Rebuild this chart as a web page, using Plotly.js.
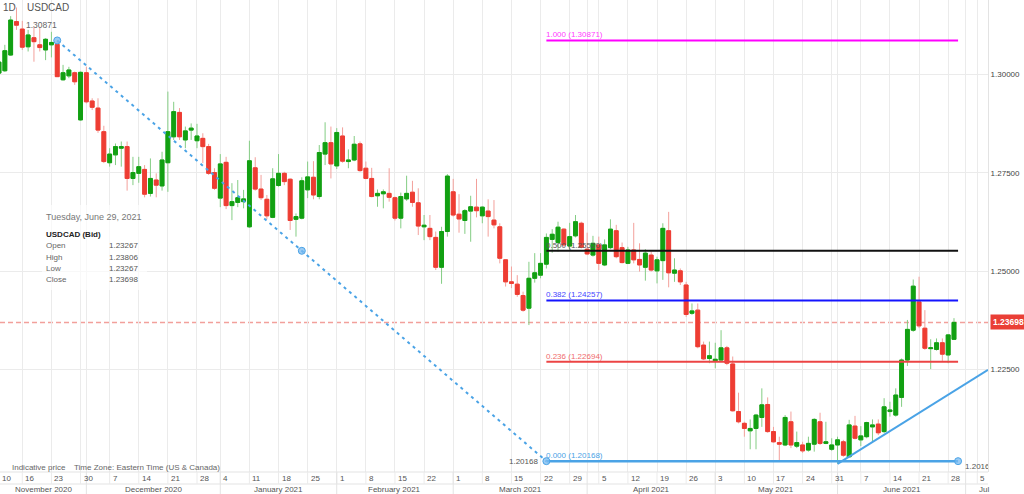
<!DOCTYPE html>
<html><head><meta charset="utf-8">
<script src="https://cdn.plot.ly/plotly-3.0.1.min.js"></script>
<style>html,body{margin:0;padding:0;background:#fff;}#chart{width:1024px;height:494px;}</style>
</head><body><div id="chart"></div>
<script>
// ---------- data ----------
const symbol = 'USDCAD';
const timeframe = '1D';
const startDate = '2020-11-10';
const holidays = ['2021-01-01'];
const open = [1.3004,1.3010,1.3050,1.3135,1.3116,1.3071,1.3094,1.3076,1.3063,1.3076,
1.3077,1.2987,1.2997,1.3005,1.2885,1.3005,1.2933,1.2915,1.2855,1.2776,
1.2796,1.2813,1.2817,1.2736,1.2749,1.2759,1.2698,1.2732,1.2717,1.2776,
1.2842,1.2904,1.2834,1.2859,1.2832,1.2838,1.2817,1.2751,1.2686,1.2777,
1.2667,1.2675,1.2677,1.2613,1.2763,1.2709,1.2683,1.2637,1.2718,1.2749,
1.2734,1.2632,1.2635,1.2707,1.2739,1.2690,1.2798,1.2827,1.2768,1.2844,
1.2779,1.2783,1.2824,1.2762,1.2736,1.2692,1.2697,1.2698,1.2687,1.2635,
1.2684,1.2701,1.2674,1.2613,1.2609,1.2586,1.2510,1.2601,1.2702,1.2645,
1.2629,1.2653,1.2663,1.2641,1.2653,1.2630,1.2613,1.2529,1.2473,1.2467,
1.2438,1.2406,1.2482,1.2490,1.2518,1.2581,1.2573,1.2607,1.2564,1.2590,
1.2622,1.2556,1.2541,1.2567,1.2516,1.2560,1.2603,1.2560,1.2520,1.2554,
1.2530,1.2510,1.2541,1.2501,1.2527,1.2603,1.2495,1.2501,1.2465,1.2393,
1.2401,1.2312,1.2278,1.2272,1.2274,1.2305,1.2264,1.2143,1.2113,1.2094,
1.2100,1.2128,1.2161,1.2092,1.2064,1.2058,1.2117,1.2055,1.2058,1.2045,
1.2060,1.2117,1.2062,1.2047,1.2058,1.2066,1.2028,1.2106,1.2071,1.2079,
1.2104,1.2111,1.2092,1.2143,1.2134,1.2179,1.2274,1.2350,1.2422,1.2355,
1.2303,1.2301,1.2318,1.2287,1.23267];
const high = [1.3042,1.3076,1.3149,1.3171,1.3137,1.3114,1.3122,1.3121,1.3093,1.3109,
1.30871,1.3025,1.3020,1.3008,1.3008,1.3020,1.2940,1.2940,1.2870,1.2813,
1.2825,1.2830,1.2830,1.2791,1.2791,1.2770,1.2787,1.2749,1.2804,1.2957,
1.2931,1.2915,1.2868,1.2876,1.2875,1.2851,1.2824,1.2762,1.2798,1.2791,
1.2724,1.2732,1.2707,1.2832,1.2790,1.2745,1.2694,1.2762,1.2798,1.2753,
1.2736,1.2647,1.2739,1.2779,1.2780,1.2821,1.2879,1.2868,1.2864,1.2866,
1.2810,1.2844,1.2830,1.2779,1.2763,1.2708,1.2708,1.2762,1.2690,1.2700,
1.2743,1.2730,1.2711,1.2643,1.2643,1.2601,1.2613,1.2747,1.2735,1.2696,
1.2658,1.2692,1.2735,1.2665,1.2683,1.2681,1.2622,1.2530,1.2512,1.2490,
1.2448,1.2524,1.2546,1.2546,1.2596,1.2607,1.2626,1.2609,1.2623,1.2643,
1.2626,1.2598,1.2590,1.2588,1.2581,1.2632,1.2618,1.2573,1.2562,1.2623,
1.2571,1.2556,1.2550,1.2537,1.2622,1.2651,1.2533,1.2507,1.2473,1.2418,
1.2418,1.2321,1.2321,1.2318,1.2350,1.2310,1.2283,1.2191,1.2117,1.2123,
1.2137,1.2202,1.2179,1.2104,1.2079,1.2134,1.2143,1.2092,1.2066,1.2079,
1.2126,1.2140,1.2117,1.2075,1.2079,1.2071,1.2122,1.2132,1.2106,1.2117,
1.2123,1.2123,1.2177,1.2168,1.2202,1.2278,1.2376,1.2479,1.2486,1.2401,
1.2327,1.2329,1.2329,1.2340,1.23806];
const low = [1.2999,1.3007,1.3048,1.3114,1.3063,1.3059,1.3033,1.3059,1.3037,1.3044,
1.2994,1.2985,1.2991,1.2974,1.2883,1.2927,1.2910,1.2852,1.2775,1.2766,
1.2770,1.2766,1.2705,1.2719,1.2725,1.2688,1.2690,1.2688,1.2705,1.2702,
1.2834,1.2834,1.2813,1.2834,1.2813,1.2775,1.2745,1.2707,1.2663,1.2658,
1.2630,1.2663,1.2660,1.2610,1.2705,1.2681,1.2632,1.2635,1.2715,1.2719,
1.2605,1.2588,1.2632,1.2686,1.2683,1.2683,1.2770,1.2736,1.2760,1.2776,
1.2762,1.2780,1.2753,1.2734,1.2688,1.2664,1.2660,1.2677,1.2629,1.2609,
1.2679,1.2664,1.2592,1.2579,1.2579,1.2503,1.2468,1.2588,1.2639,1.2598,
1.2595,1.2575,1.2637,1.2622,1.2588,1.2609,1.2520,1.2461,1.2457,1.2435,
1.2397,1.2363,1.2471,1.2482,1.2507,1.2547,1.2550,1.2562,1.2554,1.2586,
1.2558,1.2541,1.2537,1.2503,1.2513,1.2556,1.2533,1.2520,1.2518,1.2520,
1.2499,1.2476,1.2499,1.2469,1.2478,1.2459,1.2473,1.2465,1.2384,1.2389,
1.2304,1.2274,1.2266,1.2253,1.2270,1.2261,1.2143,1.2113,1.2079,1.2047,
1.2047,1.2104,1.2089,1.2064,1.20168,1.2055,1.2050,1.2050,1.2038,1.2041,
1.2041,1.2058,1.2060,1.2043,1.2010,1.2028,1.2027,1.2072,1.2055,1.2075,
1.2066,1.2083,1.2088,1.2130,1.2130,1.2155,1.2259,1.2346,1.2355,1.2300,
1.2251,1.2298,1.2272,1.2266,1.23267];
const close = [1.3032,1.3061,1.3139,1.3126,1.3070,1.3101,1.3084,1.3069,1.3090,1.3082,
1.2995,1.3005,1.3012,1.2982,1.3006,1.2931,1.2917,1.2859,1.2779,1.2798,
1.2817,1.2817,1.2736,1.2751,1.2766,1.2696,1.2736,1.2719,1.2783,1.2855,
1.2906,1.2842,1.2857,1.2864,1.2844,1.2817,1.2749,1.2711,1.2773,1.2667,
1.2677,1.2687,1.2684,1.2781,1.2709,1.2687,1.2641,1.2735,1.2749,1.2728,
1.2629,1.2639,1.2730,1.2740,1.2694,1.2802,1.2827,1.2773,1.2853,1.2780,
1.2783,1.2823,1.2756,1.2736,1.2690,1.2698,1.2702,1.2688,1.2635,1.2690,
1.2698,1.2675,1.2615,1.2617,1.2588,1.2510,1.2601,1.2742,1.2643,1.2633,
1.2654,1.2664,1.2654,1.2663,1.2639,1.2618,1.2533,1.2473,1.2469,1.2441,
1.2401,1.2482,1.2496,1.2520,1.2586,1.2594,1.2612,1.2567,1.2588,1.2626,
1.2561,1.2544,1.2571,1.2520,1.2567,1.2607,1.2537,1.2522,1.2554,1.2529,
1.2516,1.2546,1.2503,1.2529,1.2609,1.2496,1.2503,1.2473,1.2390,1.2399,
1.2308,1.2277,1.2285,1.2276,1.2305,1.2266,1.2145,1.2117,1.2100,1.2100,
1.2134,1.2160,1.2092,1.2066,1.2060,1.2128,1.2058,1.2064,1.2043,1.2062,
1.2123,1.2062,1.2066,1.2058,1.2071,1.2032,1.2109,1.2075,1.2081,1.2115,
1.2109,1.2089,1.2155,1.2147,1.2185,1.2274,1.2352,1.2462,1.2361,1.2304,
1.2305,1.2318,1.2289,1.2338,1.23698];

const fibLevels = ['1.000','0.500','0.382','0.236','0.000'];
const fibPrices = [1.30871,1.25520,1.24257,1.22694,1.20168];
const fibStartDate = '2021-03-23';
const swingHighDate = '2020-11-24';
const trendStartDate = '2021-06-01';
const trendPrices = [1.2010, 1.2249];
const lastPrice = 1.23698;
const yTicks = [1.225,1.25,1.275,1.30];
const monthLabels = ['November 2020','December 2020','January 2021','February 2021','March 2021','April 2021','May 2021','June 2021','Jul'];
const infoDate = 'Tuesday, June 29, 2021';
const infoTitle = 'USDCAD (Bid)';
const infoNames = ['Open','High','Low','Close'];
const infoValues = ['1.23267','1.23806','1.23267','1.23698'];

// ---------- style ----------
const FONT = '"Liberation Sans", Arial, Helvetica, sans-serif';
const fibColors = ['#ff00ff','#111111','#1414ff','#ec4444','#4aa3e6'];
const fibLabelColors = ['#ff3dff','#555555','#4646ff','#f06c6c','#4aa3e6'];
const GRID = '#ebebeb';
const W = 988, H = 472;

// ---------- build trading-day axis ----------
function iso(d){return d.toISOString().slice(0,10);}
const dates = [];
{let d = new Date(startDate+'T00:00:00Z');
 while(dates.length < 180){const wd=d.getUTCDay();const s=iso(d);
  if(wd!==0&&wd!==6&&!holidays.includes(s)) dates.push(s);
  d.setUTCDate(d.getUTCDate()+1);} }
const idx = s => dates.indexOf(s);
const n = open.length;
const xs = [...Array(n).keys()];
const xRange = [0.17, 169.84];
const yRange = [1.19892, 1.3190];
const toPx = i => (i - xRange[0])/(xRange[1]-xRange[0])*W;
const pX = px => px/W;
const pY = py => 1 - py/H;

const mondays = [], monthStarts = [];
for(let i=0;i<dates.length;i++){
  const i2 = i; if(i2 > xRange[1]) break;
  const d = new Date(dates[i]+'T00:00:00Z');
  if(d.getUTCDay()===1) mondays.push(i);
  if(i>0 && dates[i].slice(5,7)!==dates[i-1].slice(5,7)) monthStarts.push(i);
}
const dayTicks = [0].concat(mondays);
const gridIdx = Array.from(new Set(mondays.concat(monthStarts))).sort((a,b)=>a-b);

const fibStart = idx(fibStartDate);
const fibEnd = n - 1 + 0.7;
const swingHigh = idx(swingHighDate);
const trendStart = idx(trendStartDate);

// ---------- traces ----------
const bodyHigh = open.map((o,i)=>Math.max(o,close[i]));
const bodyLow = open.map((o,i)=>Math.min(o,close[i]));
const traces = [];
traces.push({type:'candlestick', x:xs, open:open, high:high, low:low, close:close,
  increasing:{line:{color:'#84cd84',width:1},fillcolor:'#84cd84'},
  decreasing:{line:{color:'#f3a09b',width:1},fillcolor:'#f3a09b'},
  hoverinfo:'skip', showlegend:false});
traces.push({type:'candlestick', x:xs, open:open, high:bodyHigh, low:bodyLow, close:close,
  increasing:{line:{color:'#12a012',width:1},fillcolor:'#12a012'},
  decreasing:{line:{color:'#ee3d33',width:1},fillcolor:'#ee3d33'},
  hoverinfo:'skip', showlegend:false});
fibPrices.forEach((p,k)=>{
  traces.push({type:'scatter', mode:'lines', x:[fibStart, fibEnd], y:[p,p],
    line:{color:fibColors[k], width:k===4?2.5:2}, hoverinfo:'skip', showlegend:false});
});
// dotted swing line
traces.push({type:'scatter', mode:'lines', x:[swingHigh, fibStart], y:[fibPrices[0], fibPrices[4]],
  line:{color:'#4aa3e6', width:2, dash:'3px,4px'}, hoverinfo:'skip', showlegend:false});
// trend line
traces.push({type:'scatter', mode:'lines', x:[trendStart, xRange[1]], y:trendPrices,
  line:{color:'#4aa3e6', width:2}, hoverinfo:'skip', showlegend:false});
// anchor handles
traces.push({type:'scatter', mode:'markers',
  x:[swingHigh, (swingHigh+fibStart)/2, fibStart, fibEnd],
  y:[fibPrices[0], (fibPrices[0]+fibPrices[4])/2, fibPrices[4], fibPrices[4]],
  marker:{size:7, color:'rgba(120,185,240,0.75)', line:{color:'#4aa3e6', width:1}},
  hoverinfo:'skip', showlegend:false});
// clipped anchor value at right end
traces.push({type:'scatter', mode:'text', x:[fibEnd+1.2], y:[fibPrices[4]-0.0015],
  text:[fibPrices[4].toFixed(5)], textposition:'middle right',
  textfont:{family:FONT, size:8, color:'#555'}, cliponaxis:true, hoverinfo:'skip', showlegend:false});

// ---------- shapes ----------
const shapes = [];
shapes.push({type:'line', xref:'paper', yref:'y', x0:0, x1:1, y0:lastPrice, y1:lastPrice,
  line:{color:'#f2a09b', width:1.5, dash:'5px,3px'}, layer:'below'});
// bottom rows
shapes.push({type:'line', xref:'paper', yref:'paper', x0:0, x1:1, y0:pY(472), y1:pY(472), line:{color:'#e3e3e3', width:1}});
shapes.push({type:'line', xref:'paper', yref:'paper', x0:0, x1:1, y0:pY(484), y1:pY(484), line:{color:'#e3e3e3', width:1}});
mondays.forEach(i=>{const x=pX(toPx(i)); if(x>=0&&x<=1)
  shapes.push({type:'line', xref:'paper', yref:'paper', x0:x, x1:x, y0:pY(472), y1:pY(484), line:{color:GRID, width:1}});});
monthStarts.forEach(i=>{const x=pX(toPx(i)); if(x>=0&&x<=1)
  shapes.push({type:'line', xref:'paper', yref:'paper', x0:x, x1:x, y0:pY(472), y1:pY(494), line:{color:'#e3e3e3', width:1}});});
// info box
shapes.push({type:'rect', xref:'paper', yref:'paper', x0:pX(42), x1:pX(147), y0:pY(205), y1:pY(290),
  fillcolor:'rgba(255,255,255,0.65)', line:{width:0}, layer:'above'});

// ---------- annotations ----------
const annotations = [];
function txt(text, xpx, ypx, o){
  o = o||{};
  annotations.push({text:text, xref:'paper', yref:'paper', x:pX(xpx), y:pY(ypx),
    xanchor:o.xa||'left', yanchor:'middle', showarrow:false, borderpad:0,
    font:{family:FONT, size:o.size||8, color:o.color||'#555', weight:o.weight||'normal'}});
}
txt(timeframe, 2, 8, {size:10, color:'#555'});
txt(symbol, 26, 8, {size:10, color:'#555'});
txt(fibPrices[0].toFixed(5), 25, 25, {size:8.5, color:'#666'});
txt(infoDate, 45, 217, {size:9, color:'#777'});
txt(infoTitle, 45, 234, {size:8, color:'#222', weight:'bold'});
infoNames.forEach((nm,k)=>{
  const y = 245.7 + k*11.4;
  txt(nm, 45, y, {size:8, color:'#666'});
  txt(infoValues[k], 139, y, {size:8, color:'#555', xa:'right'});
});
txt('Indicative price', 11, 467, {size:8, color:'#666'});
txt('Time Zone: Eastern Time (US & Canada)', 73, 467, {size:8, color:'#666'});
txt(fibPrices[4].toFixed(5), 539, 461, {size:8, color:'#555', xa:'right'});
// fib labels
fibPrices.forEach((p,k)=>{
  annotations.push({text:fibLevels[k]+' ('+p.toFixed(5)+')', xref:'x', yref:'y', x:fibStart, y:p,
    xanchor:'left', yanchor:'bottom', yshift:0, xshift:-1, showarrow:false, borderpad:0,
    font:{family:FONT, size:8, color:fibLabelColors[k]}});
});
// day labels
dayTicks.forEach(i=>{
  const x = toPx(i) + 2;
  if(x < 980) txt(String(Number(dates[i].slice(8,10))), x, 478.5, {size:8, color:'#555'});
});
// month labels
const bounds = [0].concat(monthStarts.map(toPx).filter(v=>v>0 && v<W));
bounds.forEach((b,k)=>{
  const e = k+1 < bounds.length ? bounds[k+1] : W;
  if(k+1 < bounds.length) txt(monthLabels[k], (b+e)/2, 489.5, {size:8, color:'#555', xa:'center'});
  else txt(monthLabels[k], b+12, 489.5, {size:8, color:'#555'});
});
// last price tag
annotations.push({text:lastPrice.toFixed(5), xref:'paper', yref:'y', x:1, y:lastPrice,
  xanchor:'left', yanchor:'middle', xshift:2, showarrow:false, bgcolor:'#ea3f36', borderpad:2,
  font:{family:FONT, size:8.5, color:'#fff', weight:'bold'}});

const layout = {
  width:1024, height:494,
  margin:{l:0, r:36, t:0, b:22, pad:0},
  paper_bgcolor:'#fff', plot_bgcolor:'#fff',
  showlegend:false,
  boxgap:0.05, boxgroupgap:0.3,
  font:{family:FONT, size:8, color:'#555'},
  xaxis:{type:'linear', range:xRange, rangeslider:{visible:false}, tickmode:'array', tickvals:gridIdx,
    showticklabels:false, ticks:'', showgrid:true, gridcolor:GRID, gridwidth:1, zeroline:false, showline:false, fixedrange:true},
  yaxis:{side:'right', range:yRange, tickmode:'array', tickvals:yTicks, ticktext:yTicks.map(v=>v.toFixed(5)),
    showgrid:true, gridcolor:GRID, zeroline:false, showline:true, linecolor:'#e3e3e3', ticks:'',
    tickfont:{family:FONT, size:8, color:'#444'}, fixedrange:true},
  shapes:shapes, annotations:annotations
};
Plotly.newPlot('chart', traces, layout, {staticPlot:true, displayModeBar:false});
</script></body></html>
